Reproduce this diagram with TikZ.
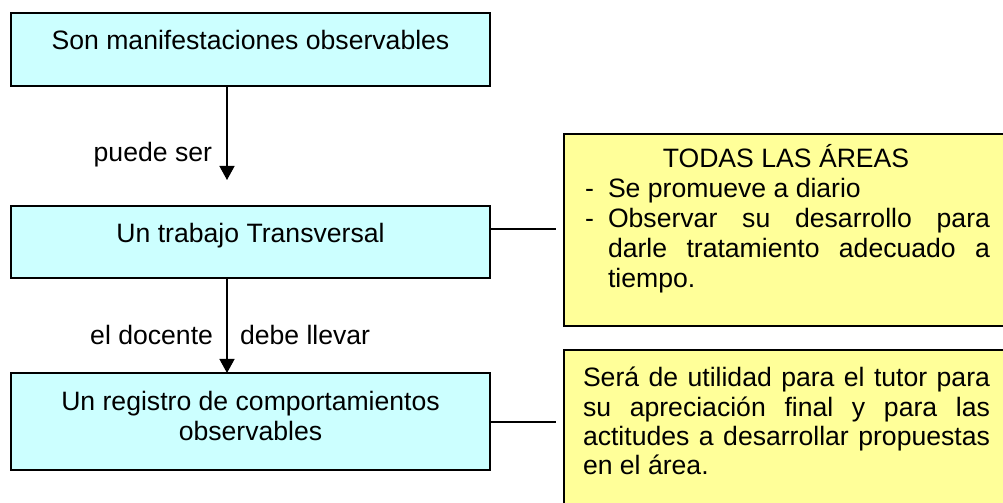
\documentclass[tikz,border=0pt]{standalone}
\usepackage{fontspec}
\setmainfont{Liberation Sans}
\usetikzlibrary{arrows.meta}
\definecolor{boxcyan}{HTML}{CCFFFF}
\definecolor{boxyellow}{HTML}{FFFF99}
\tikzset{
  basefont/.style={font=\fontsize{26.6bp}{30bp}\selectfont},
  cbox/.style={draw=black, line width=2bp, fill=boxcyan, rectangle, inner sep=0pt, outer sep=0pt, anchor=north west},
  ybox/.style={draw=black, line width=2bp, fill=boxyellow, rectangle, inner sep=0pt, outer sep=0pt, anchor=north west},
  txt/.style={basefont, inner sep=0pt, outer sep=0pt},
  arr/.style={line width=1.4bp, -{Triangle[width=15bp,length=14bp]}},
  conn/.style={line width=1.4bp},
}
\begin{document}
\begin{tikzpicture}[x=1bp,y=-1bp]
\clip (0,0) rectangle (1003,503);
% left boxes
\node[cbox, minimum width=479bp, minimum height=73bp] (b1) at (11,13) {};
\node[cbox, minimum width=479bp, minimum height=72bp] (b2) at (11,206) {};
\node[cbox, minimum width=479bp, minimum height=97bp] (b3) at (11,373) {};
% right boxes
\node[ybox, minimum width=460bp, minimum height=192bp] (y1) at (564,134) {};
\node[ybox, minimum width=460bp, minimum height=200bp] (y2) at (564,350) {};
% box texts
\node[txt, anchor=base] (t1) at (250.5,50) {Son manifestaciones observables};
\node[txt, anchor=base] (t2) at (250.5,243) {Un trabajo Transversal};
\node[txt, anchor=base] (t3) at (250.5,410) {\parbox[t]{460bp}{\centering\fontsize{26.6bp}{30bp}\selectfont Un registro de comportamientos\\ observables}};
% arrows
\coordinate (a1end) at (227,180);
\draw[arr] (b1.south -| a1end) -- (a1end);
\draw[arr] (b2.south -| a1end) -- (b3.north -| a1end);
% labels
\node[txt, anchor=base east] (l1) at (212,162) {puede ser};
\node[txt, anchor=base east] (l2) at (213,345) {el docente};
\node[txt, anchor=base west] (l3) at (240,345) {debe llevar};
% connectors
\coordinate (c1) at (556,229);
\coordinate (c2) at (556,422);
\draw[conn] (b2.east |- c1) -- (c1);
\draw[conn] (b3.east |- c2) -- (c2);
% yellow box 1 text
\node[txt, anchor=base] (yt) at (786,168) {TODAS LAS ÁREAS};
\node[txt, anchor=base west] (d1) at (585,198) {-};
\node[txt, anchor=base west] (d2) at (585,228) {-};
\node[txt, anchor=base west] (yl) at (608,198) {\parbox[t]{382bp}{\fontsize{26.6bp}{30bp}\selectfont Se promueve a diario\\ Observar su desarrollo para\linebreak darle tratamiento adecuado a\linebreak tiempo.}};
% yellow box 2 text
\node[txt, anchor=base west] (y2t) at (583,387) {\parbox[t]{407bp}{\fontsize{26.6bp}{29bp}\selectfont Será de utilidad para el tutor para\linebreak su apreciación final y para las\linebreak actitudes a desarrollar propuestas\linebreak en el área.}};
\end{tikzpicture}
\end{document}
